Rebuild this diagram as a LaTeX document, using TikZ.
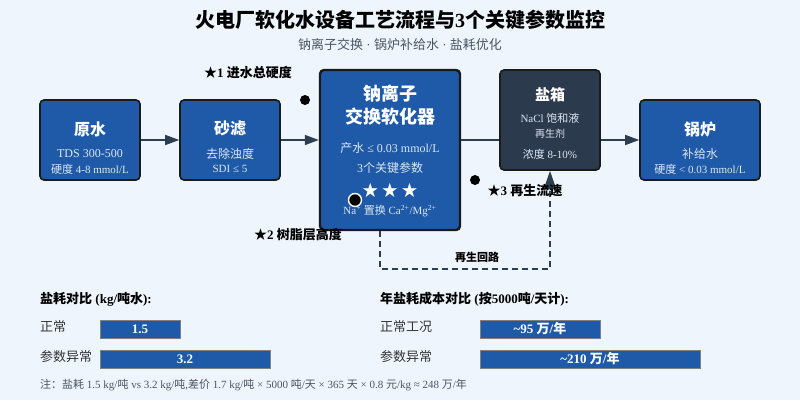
\documentclass[tikz,border=0pt]{standalone}
\usepackage{fontspec}
\setmainfont{Liberation Serif}
\newfontfamily\cjk{Noto Sans CJK SC}
\newcommand\zh[1]{{\cjk #1}}
\newcommand\fs[1]{\fontsize{#1}{#1}\selectfont}
\usetikzlibrary{arrows.meta}
\definecolor{bgblue}{HTML}{EEF5FD}
\definecolor{procblue}{HTML}{1F5AA8}
\definecolor{tankgray}{HTML}{2C3A4E}
\definecolor{edgedark}{HTML}{1A1A1A}
\definecolor{flowdark}{HTML}{2C3E50}
\definecolor{subtext}{HTML}{DCE6F4}
\definecolor{greytext}{HTML}{4A5563}
\tikzset{
  box/.style={draw=edgedark,line width=1.6pt,rounded corners=4pt,fill=procblue,inner sep=0pt},
  boxtitle/.style={text=white,font=\bfseries\fs{16}},
  boxsub/.style={text=subtext,font=\fs{12}},
  boxsmall/.style={text=subtext,font=\fs{11}},
  flow/.style={draw=flowdark,line width=1.6pt,-{Triangle[length=14pt,width=10pt]}},
  regen/.style={draw=flowdark,line width=1.6pt,dash pattern=on 6pt off 4pt,-{Triangle[length=18pt,width=12pt]}},
  marker/.style={circle,fill=black,inner sep=0pt,minimum size=10pt},
  param/.style={font=\bfseries\fs{13},text=black},
  bar/.style={draw=gray,line width=0.8pt,fill=procblue,minimum height=18pt,inner sep=0pt,text=white,font=\bfseries\fs{13}},
  lefttext/.style={anchor=west,inner sep=0pt},
  rowlabel/.style={lefttext,font=\fs{13},text=black!80}
}
\begin{document}
\begin{tikzpicture}[x=1pt,y=-1pt]
  \fill[bgblue] (0,0) rectangle (800,400);
  \useasboundingbox (0,0) rectangle (800,400);

  \node[font=\bfseries\fs{20}] (title) at (400,20) {\zh{火电厂软化水设备工艺流程与}3\zh{个关键参数监控}};
  \node[font=\fs{13},text=greytext] (subtitle) at (400,45) {\zh{钠离子交换} · \zh{锅炉补给水} · \zh{盐耗优化}};

  \node[box,minimum width=100pt,minimum height=80pt] (raw) at (90,140) {};
  \node[boxtitle] (rawT) at (90,129) {\zh{原水}};
  \node[boxsub] (rawA) at (90,154) {TDS 300-500};
  \node[boxsmall] (rawB) at (90,169) {\zh{硬度} 4-8 mmol/L};

  \node[box,minimum width=100pt,minimum height=80pt] (sand) at (230,140) {};
  \node[boxtitle] (sandT) at (230,129) {\zh{砂滤}};
  \node[boxsub] (sandA) at (230,154) {\zh{去除浊度}};
  \node[boxsmall] (sandB) at (230,169) {SDI ≤ 5};

  \node[box,line width=2.4pt,minimum width=140pt,minimum height=160pt] (ix) at (390,150) {};
  \node[text=white,font=\bfseries\fs{18}] (ixT1) at (390,94) {\zh{钠离子}};
  \node[text=white,font=\bfseries\fs{18}] (ixT2) at (390,117) {\zh{交换软化器}};
  \node[boxsub] (ixA) at (390,148) {\zh{产水} ≤ 0.03 mmol/L};
  \node[boxsub] (ixB) at (390,168) {3\zh{个关键参数}};
  \node[text=white,font=\fs{16}] (ixS) at (390,190) {\zh{★ ★ ★}};
  \node[boxsmall] (ixC) at (390,211) {Na\textsuperscript{+} \zh{置换} Ca\textsuperscript{2+}/Mg\textsuperscript{2+}};

  \node[box,fill=tankgray,minimum width=100pt,minimum height=100pt] (tank) at (550,120) {};
  \node[boxtitle,font=\bfseries\fs{15}] (tankT) at (550,95) {\zh{盐箱}};
  \node[boxsmall] (tankA) at (550,118) {NaCl \zh{饱和液}};
  \node[boxsmall,font=\fs{10}] (tankB) at (550,134) {\zh{再生剂}};
  \node[boxsmall] (tankC) at (550,154) {\zh{浓度} 8-10\%};

  \node[box,minimum width=120pt,minimum height=80pt] (boiler) at (700,140) {};
  \node[boxtitle] (boilerT) at (700,129) {\zh{锅炉}};
  \node[boxsub] (boilerA) at (700,154) {\zh{补给水}};
  \node[boxsmall] (boilerB) at (700,169) {\zh{硬度} < 0.03 mmol/L};

  \draw[flow] (raw) -- (sand);
  \draw[flow] (sand.east) -- (sand.east -| ix.west);
  \draw[draw=flowdark,line width=1.6pt] (sand.east -| ix.east) -- (sand.east -| tank.west);
  \draw[flow] (boiler.west -| tank.east) -- (boiler.west);

  \coordinate (loopL) at (380,269);
  \coordinate (loopR) at (550,269);
  \draw[regen] (ix.south -| loopL) -- (loopL) -- (loopR) -- (tank.south);
  \node[font=\bfseries\fs{11}] (loopT) at (477,257) {\zh{再生回路}};

  \node[marker] (m1) at (305,100) {};
  \node[marker] (m3) at (475,180) {};
  \node[marker,draw=white,line width=1.4pt,minimum size=13pt] (m2) at (355,200) {};
  \node[param] (p1) at (248,73) {\zh{★}1 \zh{进水总硬度}};
  \node[param] (p2) at (298,235) {\zh{★}2 \zh{树脂层高度}};
  \node[param] (p3) at (525,191) {\zh{★}3 \zh{再生流速}};

  \node[lefttext,font=\bfseries\fs{13}] (salthead) at (40,299) {\zh{盐耗对比} (kg/\zh{吨水}):};
  \node[rowlabel] (saltN) at (40,327) {\zh{正常}};
  \node[rowlabel] (saltX) at (40,357) {\zh{参数异常}};
  \node[bar,minimum width=80pt] (saltBarN) at (140,329) {1.5};
  \node[bar,minimum width=170pt] (saltBarX) at (185,359) {3.2};

  \node[lefttext,font=\bfseries\fs{13}] (costhead) at (380,299) {\zh{年盐耗成本对比} (\zh{按}5000\zh{吨}/\zh{天计}):};
  \node[rowlabel] (costN) at (380,327) {\zh{正常工况}};
  \node[rowlabel] (costX) at (380,357) {\zh{参数异常}};
  \node[bar,minimum width=120pt] (costBarN) at (540,329) {\textasciitilde95 \zh{万}/\zh{年}};
  \node[bar,minimum width=220pt] (costBarX) at (590,359) {\textasciitilde210 \zh{万}/\zh{年}};

  \node[lefttext,font=\fs{11},text=greytext] (note) at (40,385) {\zh{注：盐耗} 1.5 kg/\zh{吨} vs 3.2 kg/\zh{吨},\zh{差价} 1.7 kg/\zh{吨} × 5000 \zh{吨}/\zh{天} × 365 \zh{天} × 0.8 \zh{元}/kg ≈ 248 \zh{万}/\zh{年}};
\end{tikzpicture}
\end{document}
